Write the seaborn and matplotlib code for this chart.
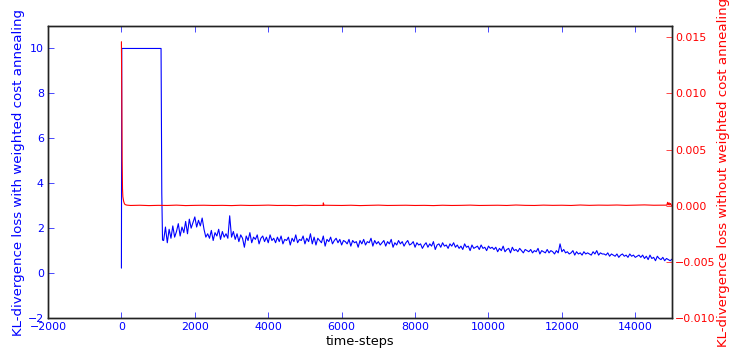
import numpy as np
import pandas as pd
import matplotlib
matplotlib.use("Agg")
import matplotlib.pyplot as plt
import seaborn as sns

# ---------------- data ----------------
# blue: KL-divergence loss with weighted cost annealing
blue_head_steps = [0, 10, 1080, 1100, 1120]
blue_head_vals = [0.22, 10.0, 10.0, 3.55, 1.47]
blue_tail_start, blue_tail_step = 1150, 50
blue_tail_vals = [
    1.45, 2.05, 1.35, 1.95, 1.55, 2.10, 1.60, 1.85, 2.20, 1.65, 2.05, 1.80, 2.30, 1.75, 2.40, 2.00, 2.25, 2.50, 2.05, 2.35,
    2.10, 2.45, 1.95, 1.60, 1.75, 1.55, 1.90, 1.45, 1.80, 1.65, 1.95, 1.50, 1.85, 1.60, 1.75, 1.55, 2.55, 1.60, 1.85, 1.50,
    1.75, 1.40, 1.70, 1.55, 1.15, 1.65, 1.45, 1.80, 1.35, 1.60, 1.50, 1.70, 1.30, 1.55, 1.65, 1.40, 1.60, 1.35, 1.70, 1.45,
    1.55, 1.35, 1.60, 1.40, 1.65, 1.30, 1.50, 1.45, 1.60, 1.25, 1.55, 1.40, 1.70, 1.35, 1.50, 1.45, 1.65, 1.30, 1.55, 1.40,
    1.75, 1.30, 1.60, 1.25, 1.55, 1.45, 1.35, 1.65, 1.20, 1.50, 1.40, 1.60, 1.30, 1.45, 1.55, 1.35, 1.50, 1.25, 1.45, 1.40,
    1.30, 1.50, 1.20, 1.45, 1.35, 1.40, 1.15, 1.45, 1.30, 1.50, 1.25, 1.40, 1.35, 1.55, 1.20, 1.45, 1.30, 1.40, 1.25, 1.35,
    1.45, 1.20, 1.40, 1.30, 1.50, 1.15, 1.35, 1.25, 1.45, 1.30, 1.40, 1.20, 1.35, 1.45, 1.25, 1.30, 1.40, 1.15, 1.35, 1.25,
    1.30, 1.10, 1.25, 1.35, 1.15, 1.30, 1.20, 1.40, 1.05, 1.25, 1.30, 1.15, 1.35, 1.20, 1.25, 1.10, 1.30, 1.20, 1.35, 1.15,
    1.25, 1.10, 1.20, 1.05, 1.30, 1.15, 1.20, 1.00, 1.25, 1.10, 1.15, 1.20, 1.05, 1.25, 1.10, 1.15, 1.00, 1.20, 1.10, 1.15,
    1.05, 1.15, 0.95, 1.10, 1.00, 1.20, 0.95, 1.05, 1.10, 0.90, 1.15, 1.00, 1.05, 0.95, 1.10, 1.00, 0.90, 1.05, 1.00, 0.95,
    1.05, 0.90, 1.00, 0.95, 1.10, 0.85, 1.00, 0.95, 0.90, 1.05, 0.90, 1.00, 0.95, 0.85, 1.00, 0.90, 1.30, 0.95, 1.05, 0.90,
    0.95, 0.85, 0.90, 1.00, 0.80, 0.95, 0.85, 0.90, 0.80, 0.95, 0.85, 0.90, 0.85, 0.80, 0.95, 0.85, 1.00, 0.80, 0.90, 0.85,
    0.85, 0.80, 0.90, 0.75, 0.85, 0.80, 0.75, 0.85, 0.70, 0.80, 0.85, 0.75, 0.80, 0.70, 0.85, 0.75, 0.80, 0.70, 0.75, 0.80,
    0.70, 0.80, 0.65, 0.75, 0.60, 0.80, 0.65, 0.70, 0.55, 0.75, 0.65, 0.60, 0.70, 0.55, 0.65, 0.60, 0.55, 0.62,
]

# red: KL-divergence loss without weighted cost annealing
red_head_steps = [0, 10, 20, 30, 40, 60, 80, 100, 150]
red_head_vals = [0.0146, 0.0100, 0.0040, 0.0015, 0.0008, 0.0004, 0.0002, 0.0001, 0.00005]
red_tail_start, red_tail_step = 250, 250
red_tail_vals = [
    0.00002, 0.00004, 0.00001, 0.00003, 0.00002, 0.00005, 0.00001, 0.00003, 0.00004, 0.00002,
    0.00003, 0.00001, 0.00004, 0.00002, 0.00003, 0.00005, 0.00002, 0.00003, 0.00001, 0.00004,
    0.00002, 0.00003, 0.00003, 0.00002, 0.00004, 0.00001, 0.00003, 0.00005, 0.00002, 0.00003,
    0.00004, 0.00002, 0.00003, 0.00001, 0.00004, 0.00002, 0.00003, 0.00005, 0.00002, 0.00003,
    0.00004, 0.00002, 0.00006, 0.00003, 0.00002, 0.00005, 0.00003, 0.00004, 0.00002, 0.00006,
    0.00003, 0.00005, 0.00004, 0.00006, 0.00003, 0.00005, 0.00007, 0.00004,
]
red_bump_steps = [5480, 5500, 5520, 14860, 14880, 14900, 14920, 14940, 14960, 14980, 15000]
red_bump_vals = [0.00003, 0.00025, 0.00004, 0.00005, 0.00030, 0.00008, 0.00026, 0.00006, 0.00020, 0.00004, 0.00002]

x_ticks = [-2000, 0, 2000, 4000, 6000, 8000, 10000, 12000, 14000]
left_ticks = [-2, 0, 2, 4, 6, 8, 10]
right_ticks = [-0.010, -0.005, 0.000, 0.005, 0.010, 0.015]

# ---------------- frames ----------------
blue_steps = blue_head_steps + list(blue_tail_start + blue_tail_step * np.arange(len(blue_tail_vals)))
blue_vals = blue_head_vals + blue_tail_vals
red_steps = red_head_steps + list(red_tail_start + red_tail_step * np.arange(len(red_tail_vals))) + red_bump_steps
red_vals = red_head_vals + red_tail_vals + red_bump_vals
df_blue = pd.DataFrame({"step": blue_steps, "loss": blue_vals})
df_red = pd.DataFrame({"step": red_steps, "loss": red_vals}).sort_values("step")

# ---------------- plot ----------------
sns.set_style("white")
plt.rcParams["font.family"] = ["DejaVu Sans"]

fig = plt.figure(figsize=(7.31, 3.56), dpi=100)
ax1 = fig.add_subplot(111)
fig.subplots_adjust(left=48 / 731, right=672 / 731, top=1 - 26 / 356, bottom=1 - 318 / 356)

sns.lineplot(data=df_blue, x="step", y="loss", ax=ax1, color="#0000ff", lw=0.8, estimator=None, sort=False)
ax2 = ax1.twinx()
sns.lineplot(data=df_red, x="step", y="loss", ax=ax2, color="#ff0000", lw=0.8, estimator=None, sort=False)

ax1.set_xlim(-2000, 15000)
ax1.set_ylim(-2, 11)
ax2.set_ylim(-0.010, 0.016)
ax1.set_xticks(x_ticks)
ax1.set_yticks(left_ticks)
ax2.set_yticks(right_ticks)

ax1.set_xlabel("time-steps", fontsize=9.3, color="black", labelpad=2)
ax1.set_ylabel("KL-divergence loss with weighted cost annealing", fontsize=9.6, color="#0000ff", labelpad=2)
ax2.set_ylabel("KL-divergence loss without weighted cost annealing", fontsize=9.6, color="#ff0000", labelpad=1)

ax1.xaxis.set_ticks_position("both")
ax1.tick_params(axis="both", which="major", direction="in", colors="#0000ff", labelsize=7.9,
                length=4, width=0.5, pad=3)
ax1.tick_params(axis="x", top=True, labeltop=False)
ax2.tick_params(axis="y", direction="in", colors="#ff0000", labelsize=7.9, length=4, width=0.5, pad=2)

for ax in (ax1, ax2):
    for s in ax.spines.values():
        s.set_color("#222222")
        s.set_linewidth(1.0)

fig.savefig("out.png", dpi=100)
